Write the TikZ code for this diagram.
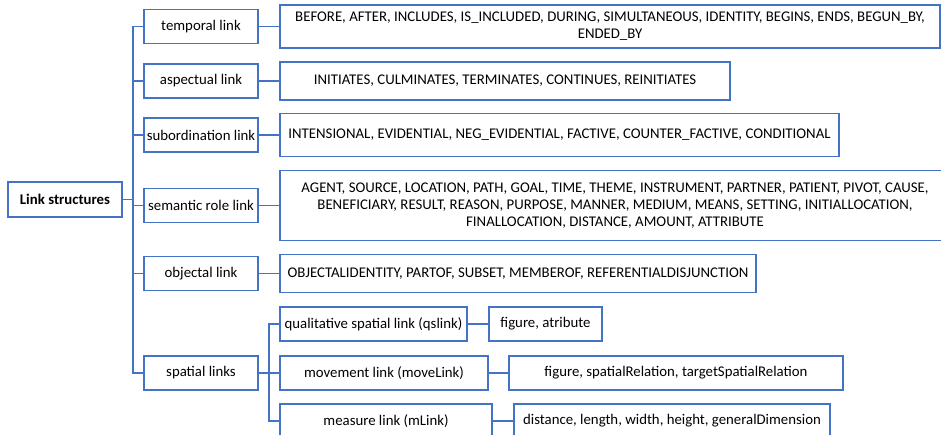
\documentclass[tikz,border=0pt]{standalone}
\usepackage{fontspec}
\setmainfont{Carlito}
\usepackage{tikz}
\usetikzlibrary{positioning}
\usetikzlibrary{calc}
\definecolor{boxblue}{RGB}{68,114,196}
\tikzset{
    box/.style={draw=boxblue, line width=1.5pt, fill=white, inner sep=0pt,
        font=\fontsize{14.8}{17}\selectfont, align=center},
    rootbox/.style={box, font=\fontsize{14.8}{17}\selectfont\bfseries},
    linkbox/.style={box, minimum width=114pt, minimum height=34pt},
    listbox/.style={box},
    branch/.style={draw=boxblue, line width=1.5pt},
}
\begin{document}
\begin{tikzpicture}[x=1pt, y=-1pt]
	\useasboundingbox (0,0) rectangle (941,434);
	\clip (0,0) rectangle (941,434);
%
	\node[rootbox, minimum width=114pt, minimum height=35pt] (root) at (65,199.5) {Link structures};
%
	\node[linkbox] (temporal) at (201,26.5) {temporal link};
	\node[linkbox] (aspectual) at (201,81) {aspectual link};
	\node[linkbox] (subordination) at (201,135) {subordination link};
	\node[linkbox] (semantic) at (201,205.5) {semantic role link};
	\node[linkbox] (objectal) at (201,273.5) {objectal link};
	\node[linkbox] (spatial) at (201,373) {spatial links};
%
	\node[listbox, minimum width=660pt, minimum height=43pt] (temporallist) at (610,26.5)
		{BEFORE, AFTER, INCLUDES, IS\_INCLUDED, DURING, SIMULTANEOUS, IDENTITY, BEGINS, ENDS, BEGUN\_BY,\\ ENDED\_BY};
	\node[listbox, minimum width=450pt, minimum height=38pt] (aspectuallist) at (505,81)
		{INITIATES, CULMINATES, TERMINATES, CONTINUES, REINITIATES};
	\node[listbox, minimum width=559pt, minimum height=43pt] (subordinationlist) at (559.5,135)
		{INTENSIONAL, EVIDENTIAL, NEG\_EVIDENTIAL, FACTIVE, COUNTER\_FACTIVE, CONDITIONAL};
	\node[listbox, minimum width=670pt, minimum height=70pt] (semanticlist) at (615,205.5)
		{AGENT, SOURCE, LOCATION, PATH, GOAL, TIME, THEME, INSTRUMENT, PARTNER, PATIENT, PIVOT, CAUSE,\\
		 BENEFICIARY, RESULT, REASON, PURPOSE, MANNER, MEDIUM, MEANS, SETTING, INITIALLOCATION,\\
		 FINALLOCATION, DISTANCE, AMOUNT, ATTRIBUTE};
	\node[listbox, minimum width=476pt, minimum height=38pt] (objectallist) at (518,273.5)
		{OBJECTALIDENTITY, PARTOF, SUBSET, MEMBEROF, REFERENTIALDISJUNCTION};
%
	\node[listbox, minimum width=187pt, minimum height=34pt] (qslink) at (373.5,324) {qualitative spatial link (qslink)};
	\node[listbox, minimum width=208pt, minimum height=34pt] (movelink) at (384,373) {movement link (moveLink)};
	\node[listbox, minimum width=212pt, minimum height=34pt] (mlink) at (386,421) {measure link (mLink)};
	\node[listbox, minimum width=113pt, minimum height=34pt] (qslist) at (545.5,324) {figure, atribute};
	\node[listbox, minimum width=334pt, minimum height=34pt] (movelist) at (676,373) {figure, spatialRelation, targetSpatialRelation};
	\node[listbox, minimum width=316pt, minimum height=34pt] (mlist) at (672,421) {distance, length, width, height, generalDimension};
%
	\coordinate (trunk) at (133,0);
	\coordinate (subtrunk) at (269,0);
	\draw[branch] (root.east) -- (root.east -| trunk);
	\draw[branch] (temporal.west) -| (trunk |- spatial.west) -- (spatial.west);
	\foreach \n in {aspectual,subordination,semantic,objectal}
		\draw[branch] (\n.west) -- (\n.west -| trunk);
	\foreach \n in {temporal,aspectual,subordination,semantic,objectal}
		\draw[branch] (\n.east) -- (\n list.west);
%
	\draw[branch] (spatial.east) -- (spatial.east -| subtrunk);
	\draw[branch] (qslink.west) -| (subtrunk |- mlink.west) -- (mlink.west);
	\draw[branch] (movelink.west) -- (movelink.west -| subtrunk);
	\draw[branch] (qslink.east) -- (qslist.west);
	\draw[branch] (movelink.east) -- (movelist.west);
	\draw[branch] (mlink.east) -- (mlist.west);
 \end{tikzpicture}
\end{document}
